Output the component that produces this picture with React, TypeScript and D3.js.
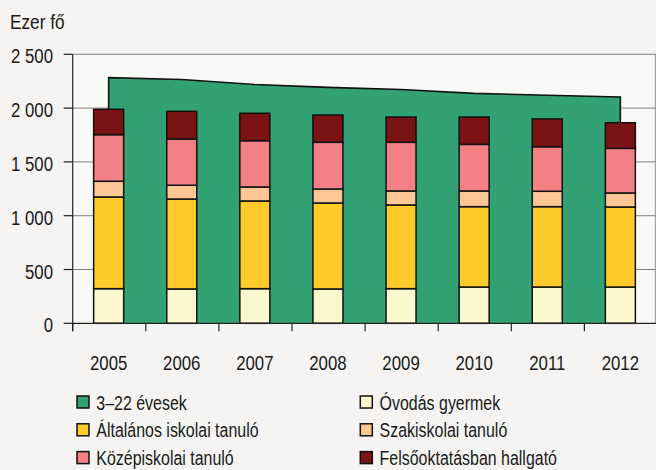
import React from 'react';
import * as d3 from 'd3';

const years = ['2005', '2006', '2007', '2008', '2009', '2010', '2011', '2012'];
const age3to22 = [2283, 2266, 2220, 2193, 2173, 2137, 2120, 2104];
const ovodas = [322, 319, 322, 319, 322, 337, 337, 337];
const altalanos = [852, 836, 815, 799, 778, 747, 747, 744];
const szakiskolai = [146, 128, 130, 130, 130, 146, 143, 130];
const kozepiskolai = [433, 430, 430, 434, 452, 433, 414, 415];
const felsooktatas = [236, 257, 255, 254, 235, 254, 258, 238];
const yTicks = [0, 500, 1000, 1500, 2000, 2500];

const seriesKeys = ['ovodas', 'altalanos', 'szak', 'kozep', 'felso'];
const seriesColors: Record<string, string> = {
  ovodas: '#faf8cc',
  altalanos: '#fecb2b',
  szak: '#fdc795',
  kozep: '#f28085',
  felso: '#7b1315',
};
const areaColor = '#32a173';

const legendItems = [
  { label: '3–22 évesek', color: areaColor },
  { label: 'Óvodás gyermek', color: seriesColors.ovodas },
  { label: 'Általános iskolai tanuló', color: seriesColors.altalanos },
  { label: 'Szakiskolai tanuló', color: seriesColors.szak },
  { label: 'Középiskolai tanuló', color: seriesColors.kozep },
  { label: 'Felsőoktatásban hallgató', color: seriesColors.felso },
];

const FONT = "'Liberation Sans', Arial, sans-serif";
const FS = 21;

function T({ x, y, anchor = 'start', sx = 0.8, children }: { x: number; y: number; anchor?: string; sx?: number; children: React.ReactNode }) {
  return (
    <text
      transform={`translate(${x},${y}) scale(${sx},1)`}
      textAnchor={anchor}
      fontSize={FS}
      fill="#1a1a1a"
    >
      {children}
    </text>
  );
}

export default function App() {
  const W = 656, H = 470;
  const left = 72.7, right = 657.5, top = 54.3, bottom = 323.3;
  const x = d3.scaleBand<string>().domain(years).range([left, right]);
  const y = d3.scaleLinear().domain([0, 2500]).range([bottom, top]);
  const barW = 30;
  const cx = (yr: string) => (x(yr) as number) + x.bandwidth() / 2 - 0.6;

  const table = years.map((yr, i) => ({
    year: yr,
    ovodas: ovodas[i],
    altalanos: altalanos[i],
    szak: szakiskolai[i],
    kozep: kozepiskolai[i],
    felso: felsooktatas[i],
  }));
  const stacked = d3.stack<any>().keys(seriesKeys)(table);

  const areaGen = d3
    .area<number>()
    .x((_, i) => cx(years[i]))
    .y0(y(0))
    .y1((d) => y(d));
  const linePts: [number, number][] = [
    [cx(years[0]), y(0)],
    ...age3to22.map((v, i) => [cx(years[i]), y(v)] as [number, number]),
    [cx(years[years.length - 1]), y(0)],
  ];
  const lineGen = d3.line();

  return (
    <svg
      width={W}
      height={H}
      style={{ position: 'absolute', left: 0, top: 0, background: '#f5f4f2' }}
      fontFamily={FONT}
    >
      <rect x={0} y={0} width={W} height={H} fill="#f5f4f2" />
      <rect x={left} y={top} width={W - left} height={bottom - top} fill="#f9f9f8" />
      {yTicks.filter((t) => t > 0).map((t) => (
        <line key={t} x1={left} x2={W} y1={y(t)} y2={y(t)} stroke="#808080" strokeWidth={1} />
      ))}
      <line x1={655.3} x2={655.3} y1={top} y2={bottom} stroke="#909090" strokeWidth={1} />
      <path d={areaGen(age3to22) || ''} fill={areaColor} />
      <path d={lineGen(linePts) || ''} fill="none" stroke="#111" strokeWidth={1.6} />
      {stacked.map((s) => (
        <g key={s.key}>
          {s.map((d, i) => (
            <rect
              key={i}
              x={cx(years[i]) - barW / 2}
              y={y(d[1])}
              width={barW}
              height={y(d[0]) - y(d[1])}
              fill={seriesColors[s.key]}
              stroke="#111"
              strokeWidth={1.5}
            />
          ))}
        </g>
      ))}
      <line x1={left} x2={W} y1={bottom} y2={bottom} stroke="#222" strokeWidth={1.2} />
      <line x1={left} x2={left} y1={top} y2={bottom + 8} stroke="#222" strokeWidth={1.2} />
      {years.map((yr) => (
        <line key={yr} x1={x(yr) as number} x2={x(yr) as number} y1={bottom} y2={bottom + 8} stroke="#222" strokeWidth={1.2} />
      ))}
      {yTicks.map((t) => (
        <g key={t}>
          <line x1={left - 9} x2={left} y1={y(t)} y2={y(t)} stroke="#222" strokeWidth={1.2} />
          <T x={53} y={y(t) + 9} anchor="end">
            {d3.format(',')(t).replace(/,/g, ' ')}
          </T>
        </g>
      ))}
      {years.map((yr) => (
        <T key={yr} x={cx(yr)} y={370} anchor="middle">
          {yr}
        </T>
      ))}
      <T x={10} y={29} sx={0.82}>Ezer fő</T>
      {legendItems.map((it, i) => {
        const col = i % 2;
        const row = Math.floor(i / 2);
        const bx = col === 0 ? 77 : 360.3;
        const by = 396 + row * 27.8;
        return (
          <g key={it.label}>
            <rect x={bx} y={by} width={12} height={12} fill={it.color} stroke="#111" strokeWidth={1.5} />
            <T x={bx + 19.3} y={by + 13.6} sx={0.76}>{it.label}</T>
          </g>
        );
      })}
    </svg>
  );
}
